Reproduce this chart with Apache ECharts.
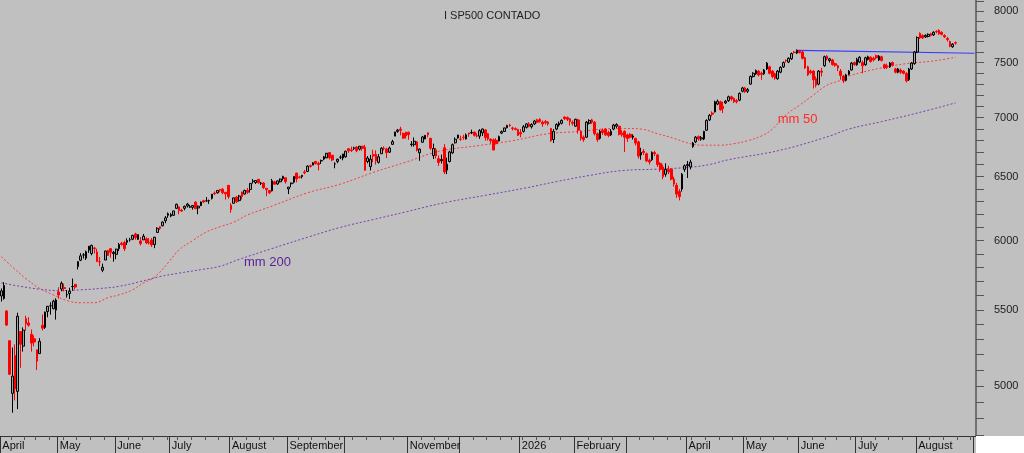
<!DOCTYPE html>
<html>
<head>
<meta charset="utf-8">
<title>I SP500 CONTADO</title>
<script src="https://cdn.jsdelivr.net/npm/echarts@6/dist/echarts.min.js"></script>
<style>
html, body { margin: 0; padding: 0; background: #c0c0c0; }
#container { width: 1024px; height: 453px; }
</style>
</head>
<body>
<div id="container"></div>
<script>
var dom = document.getElementById("container");
var myChart = echarts.init(dom);

// trading calendar (weekdays minus exchange holidays)
var firstDay = '2025-04-01';
var lastDay = '2026-09-01';
var holidays = ['2025-04-18', '2025-05-26', '2025-06-19', '2025-07-04', '2025-09-01',
    '2025-11-27', '2025-12-25', '2026-01-01', '2026-01-19', '2026-02-16',
    '2026-04-03', '2026-05-25', '2026-06-19', '2026-07-03'];

// month labels shown under the axis
var monthLabels = [
    ['2025-04', 'April'], ['2025-05', 'May'], ['2025-06', 'June'], ['2025-07', 'July'],
    ['2025-08', 'August'], ['2025-09', 'September'], ['2025-11', 'November'], ['2026-01', '2026'],
    ['2026-02', 'February'], ['2026-04', 'April'], ['2026-05', 'May'], ['2026-06', 'June'],
    ['2026-07', 'July'], ['2026-08', 'August'], ['2026-09', 'September']
];

var yLabels = [5000, 5500, 6000, 6500, 7000, 7500, 8000];
var yTicks = [4700, 4800, 4900, 5000, 5100, 5200, 5300, 5400, 5500, 5600, 5700, 5800, 5900,
    6000, 6100, 6200, 6300, 6400, 6500, 6600, 6700, 6800, 6900, 7000, 7100, 7200, 7300,
    7400, 7500, 7600, 7700, 7800, 7900, 8000, 8100];

// daily candles: [open, close, low, high]
var candles = [
    // april 2025
    [5597, 5633, 5558, 5650], [5580, 5671, 5571, 5695], [5492, 5397, 5390, 5500], [5292, 5074, 5069, 5292],
    [4954, 5062, 4835, 5247], [5194, 4982, 4910, 5268], [4966, 5457, 4857, 5481], [5353, 5268, 5115, 5353],
    [5256, 5363, 5220, 5381], [5441, 5406, 5358, 5460], [5411, 5396, 5386, 5450], [5335, 5276, 5220, 5367],
    [5305, 5283, 5255, 5328], [5232, 5158, 5101, 5232], [5207, 5288, 5207, 5309], [5395, 5376, 5360, 5469],
    [5381, 5485, 5371, 5489], [5489, 5525, 5450, 5528], [5529, 5529, 5468, 5553], [5508, 5561, 5505, 5571],
    [5499, 5569, 5434, 5581],
    // may
    [5626, 5604, 5578, 5659], [5646, 5687, 5631, 5700], [5656, 5650, 5629, 5684], [5605, 5607, 5586, 5639],
    [5614, 5631, 5576, 5655], [5663, 5664, 5634, 5721], [5679, 5660, 5644, 5683], [5807, 5844, 5786, 5846],
    [5854, 5886, 5847, 5906], [5893, 5893, 5866, 5906], [5869, 5917, 5855, 5925], [5929, 5958, 5908, 5959],
    [5903, 5964, 5890, 5969], [5944, 5941, 5904, 5953], [5915, 5845, 5840, 5939], [5842, 5842, 5810, 5878],
    [5781, 5802, 5767, 5829], [5855, 5922, 5855, 5924], [5926, 5889, 5886, 5930], [5939, 5912, 5872, 5943],
    [5903, 5912, 5843, 5923],
    // june
    [5897, 5936, 5861, 5938], [5939, 5970, 5921, 5982], [5979, 5971, 5962, 5991], [5985, 5939, 5921, 5999],
    [5987, 6000, 5967, 6017], [6005, 6006, 5992, 6021], [6010, 6039, 6003, 6043], [6050, 6022, 6006, 6059],
    [6009, 6045, 6004, 6045], [5997, 5977, 5963, 6026], [6005, 6033, 6005, 6050], [6013, 5982, 5974, 6024],
    [5987, 5981, 5970, 6018], [6004, 5967, 5952, 6019], [5970, 6025, 5943, 6028], [6061, 6093, 6061, 6101],
    [6104, 6092, 6080, 6108], [6112, 6141, 6108, 6146], [6151, 6173, 6132, 6187], [6193, 6205, 6174, 6215],
    // july
    [6187, 6198, 6178, 6210], [6193, 6227, 6188, 6228], [6247, 6279, 6245, 6284], [6259, 6230, 6201, 6262],
    [6233, 6226, 6218, 6243], [6247, 6263, 6232, 6269], [6266, 6280, 6253, 6290], [6255, 6260, 6249, 6275],
    [6255, 6269, 6237, 6272], [6296, 6244, 6243, 6303], [6250, 6264, 6201, 6270], [6269, 6297, 6264, 6301],
    [6307, 6297, 6290, 6315], [6305, 6306, 6302, 6336], [6307, 6309, 6282, 6316], [6326, 6359, 6317, 6360],
    [6368, 6363, 6352, 6381], [6370, 6389, 6364, 6390], [6397, 6390, 6375, 6402], [6399, 6371, 6359, 6409],
    [6374, 6362, 6316, 6377], [6430, 6339, 6323, 6428],
    // august
    [6272, 6238, 6212, 6288], [6287, 6330, 6287, 6330], [6336, 6299, 6289, 6344], [6308, 6345, 6301, 6353],
    [6376, 6340, 6316, 6379], [6360, 6389, 6356, 6395], [6390, 6374, 6361, 6409], [6397, 6446, 6372, 6446],
    [6461, 6466, 6444, 6481], [6453, 6469, 6441, 6473], [6479, 6450, 6444, 6481], [6446, 6449, 6433, 6458],
    [6449, 6411, 6401, 6456], [6406, 6396, 6343, 6407], [6389, 6370, 6360, 6393], [6386, 6467, 6381, 6482],
    [6458, 6439, 6438, 6467], [6441, 6466, 6434, 6469], [6459, 6481, 6453, 6485], [6484, 6502, 6470, 6508],
    [6491, 6460, 6444, 6493],
    // september
    [6401, 6416, 6360, 6417], [6443, 6448, 6415, 6453], [6456, 6502, 6445, 6502], [6530, 6482, 6454, 6532],
    [6498, 6495, 6485, 6508], [6500, 6512, 6486, 6513], [6539, 6532, 6520, 6555], [6543, 6587, 6539, 6593],
    [6590, 6584, 6575, 6600], [6595, 6615, 6595, 6619], [6626, 6607, 6600, 6627], [6610, 6600, 6551, 6624],
    [6630, 6632, 6604, 6641], [6645, 6664, 6636, 6672], [6655, 6694, 6654, 6695], [6700, 6656, 6642, 6702],
    [6677, 6638, 6627, 6677], [6604, 6605, 6569, 6619], [6626, 6644, 6611, 6649], [6661, 6661, 6645, 6677],
    [6654, 6688, 6635, 6688],
    // october
    [6664, 6711, 6657, 6715], [6732, 6715, 6697, 6737], [6722, 6716, 6705, 6750], [6734, 6740, 6722, 6749],
    [6746, 6715, 6703, 6753], [6729, 6753, 6718, 6755], [6754, 6735, 6714, 6755], [6744, 6553, 6551, 6765],
    [6625, 6654, 6610, 6670], [6583, 6644, 6551, 6680], [6682, 6671, 6618, 6724], [6686, 6630, 6600, 6719],
    [6618, 6664, 6608, 6687], [6690, 6736, 6690, 6745], [6736, 6735, 6717, 6752], [6730, 6699, 6654, 6741],
    [6703, 6738, 6697, 6751], [6769, 6792, 6766, 6808], [6839, 6875, 6839, 6876], [6880, 6891, 6868, 6901],
    [6900, 6890, 6846, 6920], [6863, 6822, 6818, 6870], [6874, 6840, 6818, 6875],
    // november
    [6872, 6852, 6808, 6878], [6767, 6771, 6750, 6797], [6766, 6796, 6750, 6828], [6790, 6720, 6709, 6796],
    [6698, 6729, 6631, 6733], [6787, 6832, 6783, 6841], [6815, 6846, 6812, 6849], [6868, 6851, 6829, 6870],
    [6821, 6737, 6723, 6822], [6674, 6734, 6646, 6775], [6722, 6672, 6650, 6739], [6649, 6617, 6589, 6676],
    [6631, 6642, 6608, 6683], [6740, 6539, 6522, 6771], [6554, 6603, 6521, 6657], [6625, 6705, 6617, 6715],
    [6697, 6766, 6689, 6776], [6782, 6813, 6776, 6828], [6823, 6849, 6818, 6850],
    // december
    [6813, 6812, 6799, 6843], [6830, 6829, 6808, 6851], [6815, 6850, 6810, 6862], [6866, 6857, 6834, 6867],
    [6866, 6870, 6857, 6895], [6874, 6846, 6835, 6879], [6841, 6840, 6828, 6864], [6839, 6887, 6816, 6899],
    [6867, 6901, 6840, 6904], [6893, 6827, 6801, 6899], [6860, 6816, 6801, 6863], [6812, 6800, 6776, 6822],
    [6808, 6721, 6720, 6819], [6803, 6775, 6768, 6822], [6797, 6835, 6796, 6844], [6865, 6878, 6857, 6888],
    [6879, 6910, 6875, 6911], [6912, 6932, 6906, 6937], [6935, 6930, 6920, 6945], [6910, 6905, 6888, 6920],
    [6903, 6896, 6890, 6915], [6896, 6845, 6843, 6902],
    // january 2026
    [6870, 6858, 6830, 6900], [6880, 6920, 6870, 6935], [6915, 6945, 6905, 6950], [6945, 6925, 6915, 6960],
    [6920, 6940, 6905, 6950], [6945, 6970, 6935, 6980], [6980, 6960, 6950, 6990], [6985, 6965, 6955, 6995],
    [6960, 6945, 6920, 6975], [6965, 6955, 6940, 6980], [6960, 6945, 6930, 6970], [6905, 6800, 6790, 6910],
    [6810, 6880, 6780, 6900], [6900, 6940, 6890, 6950], [6935, 6950, 6920, 6965], [6950, 6975, 6940, 6985],
    [7005, 6990, 6980, 7010], [7000, 6985, 6970, 7010], [6990, 6965, 6930, 6995], [6960, 6950, 6930, 6975],
    // february
    [6925, 6985, 6920, 6990], [6980, 6890, 6860, 6990], [6880, 6820, 6800, 6890], [6830, 6810, 6790, 6845],
    [6830, 6960, 6825, 6970], [6950, 6975, 6940, 6985], [6980, 6960, 6945, 6990], [6960, 6860, 6845, 6970],
    [6860, 6810, 6790, 6870], [6820, 6880, 6810, 6895], [6890, 6870, 6850, 6905], [6900, 6850, 6840, 6905],
    [6870, 6845, 6830, 6885], [6850, 6880, 6840, 6900], [6900, 6935, 6890, 6945], [6925, 6940, 6910, 6950],
    [6925, 6855, 6845, 6930], [6865, 6850, 6835, 6890], [6880, 6830, 6705, 6890],
    // march
    [6850, 6820, 6790, 6860], [6855, 6830, 6820, 6865], [6830, 6840, 6810, 6855], [6820, 6780, 6760, 6825],
    [6790, 6670, 6650, 6800], [6680, 6700, 6640, 6740], [6710, 6700, 6680, 6730], [6690, 6630, 6620, 6700],
    [6635, 6620, 6600, 6650], [6640, 6700, 6630, 6710], [6700, 6690, 6670, 6715], [6680, 6600, 6580, 6690],
    [6610, 6560, 6540, 6620], [6580, 6500, 6480, 6600], [6520, 6560, 6500, 6610], [6560, 6540, 6520, 6590],
    [6560, 6480, 6470, 6570], [6480, 6440, 6420, 6500], [6430, 6360, 6330, 6450], [6380, 6340, 6310, 6400],
    [6400, 6520, 6380, 6530], [6560, 6590, 6540, 6600],
    // april
    [6590, 6600, 6490, 6630], [6580, 6620, 6560, 6640], [6750, 6780, 6740, 6790], [6790, 6830, 6780, 6840],
    [6835, 6815, 6800, 6845], [6815, 6825, 6800, 6840], [6815, 6880, 6805, 6885], [6890, 6975, 6885, 6985],
    [6980, 7020, 6970, 7030], [7040, 7030, 7010, 7055], [7050, 7140, 7045, 7150], [7120, 7145, 7110, 7160],
    [7140, 7070, 7060, 7150], [7100, 7080, 7040, 7140], [7130, 7145, 7120, 7155], [7150, 7185, 7140, 7195],
    [7185, 7165, 7150, 7195], [7170, 7140, 7130, 7180], [7150, 7140, 7125, 7165], [7155, 7215, 7145, 7225],
    [7235, 7265, 7225, 7275],
    // may
    [7265, 7230, 7220, 7275], [7235, 7250, 7220, 7265], [7300, 7370, 7295, 7380], [7370, 7400, 7360, 7410],
    [7395, 7425, 7385, 7435], [7420, 7385, 7370, 7430], [7400, 7390, 7340, 7415], [7395, 7430, 7385, 7440],
    [7440, 7495, 7430, 7505], [7460, 7400, 7390, 7470], [7420, 7370, 7355, 7430], [7395, 7355, 7340, 7405],
    [7350, 7420, 7340, 7430], [7410, 7455, 7400, 7465], [7460, 7500, 7450, 7510], [7520, 7515, 7500, 7530],
    [7505, 7540, 7495, 7550], [7535, 7585, 7525, 7595], [7600, 7595, 7585, 7610], [7590, 7615, 7580, 7625],
    // june
    [7610, 7595, 7585, 7620], [7600, 7540, 7530, 7610], [7545, 7450, 7440, 7555], [7460, 7385, 7375, 7470],
    [7420, 7405, 7390, 7435], [7420, 7340, 7260, 7430], [7350, 7290, 7270, 7370], [7300, 7420, 7290, 7430],
    [7420, 7410, 7370, 7450], [7470, 7555, 7460, 7565], [7560, 7535, 7520, 7570], [7520, 7535, 7500, 7545],
    [7525, 7480, 7470, 7535], [7490, 7475, 7460, 7500], [7470, 7450, 7420, 7480], [7420, 7380, 7340, 7440],
    [7375, 7330, 7310, 7385], [7335, 7385, 7325, 7395], [7390, 7420, 7380, 7430], [7430, 7495, 7425, 7505],
    [7500, 7480, 7470, 7510],
    // july
    [7480, 7530, 7470, 7545], [7505, 7550, 7495, 7560], [7500, 7470, 7400, 7520], [7480, 7545, 7470, 7555],
    [7530, 7555, 7520, 7565], [7550, 7510, 7500, 7560], [7540, 7525, 7510, 7555], [7565, 7545, 7530, 7575],
    [7525, 7560, 7515, 7570], [7555, 7520, 7510, 7565], [7480, 7450, 7440, 7490], [7470, 7455, 7440, 7490],
    [7460, 7495, 7450, 7505], [7500, 7475, 7465, 7510], [7440, 7410, 7400, 7450], [7410, 7440, 7400, 7450],
    [7430, 7410, 7395, 7445], [7420, 7400, 7390, 7430], [7400, 7330, 7315, 7410], [7340, 7440, 7330, 7450],
    [7440, 7495, 7430, 7505], [7490, 7600, 7480, 7610],
    // august
    [7600, 7740, 7590, 7750], [7780, 7735, 7725, 7790], [7760, 7735, 7725, 7770], [7745, 7760, 7735, 7770],
    [7750, 7770, 7740, 7780], [7775, 7760, 7750, 7785], [7765, 7790, 7755, 7800], [7800, 7795, 7780, 7810],
    [7810, 7775, 7765, 7820], [7790, 7770, 7760, 7800], [7760, 7745, 7735, 7770], [7730, 7720, 7700, 7745],
    [7700, 7655, 7645, 7710], [7650, 7675, 7640, 7685], [7690, 7685, 7670, 7700]
];

// moving averages: [day index, value]
var ma50 = [[0, 5880], [4, 5805], [9, 5720], [14, 5650], [19, 5605], [24, 5565], [29, 5550], [34, 5550],
    [39, 5585], [43, 5605], [48, 5640], [52, 5690], [56, 5730], [61, 5835], [65, 5930], [70, 6000],
    [75, 6065], [80, 6105], [85, 6140], [90, 6195], [99, 6265], [112, 6370], [124, 6440], [136, 6535],
    [148, 6620], [160, 6710], [175, 6760], [187, 6800], [200, 6860], [212, 6880], [220, 6900], [228, 6905],
    [234, 6900], [240, 6860], [246, 6820], [252, 6775], [257, 6762], [263, 6762], [268, 6775], [273, 6800],
    [278, 6840], [282, 6900], [287, 7025], [292, 7110], [297, 7200], [302, 7290], [307, 7335], [310, 7375],
    [322, 7450], [331, 7490], [341, 7515], [349, 7550]];
var ma200 = [[0, 5690], [7, 5665], [14, 5645], [21, 5635], [29, 5640], [36, 5650], [43, 5665], [51, 5700],
    [58, 5735], [65, 5760], [73, 5785], [80, 5810], [87, 5860], [99, 5940], [112, 6025], [124, 6100],
    [136, 6160], [148, 6220], [156, 6262], [164, 6300], [177, 6350], [192, 6410], [203, 6460], [215, 6510],
    [227, 6550], [240, 6562], [252, 6578], [259, 6600], [266, 6640], [285, 6720], [303, 6840], [310, 6900],
    [322, 6965], [335, 7040], [349, 7130]];
var resistance = [[291, 7615], [356, 7588]];
var maNames = ['mm 50', 'mm 200'];
var maNameAt = [[284, 6985], [88, 5840]];

var dates = [];
for (var d = new Date(firstDay + 'T00:00:00Z'); d <= new Date(lastDay + 'T00:00:00Z'); d.setUTCDate(d.getUTCDate() + 1)) {
    var s = d.toISOString().slice(0, 10);
    var wd = d.getUTCDay();
    if (wd !== 0 && wd !== 6 && holidays.indexOf(s) < 0) dates.push(s);
}
var labelOf = {};
monthLabels.forEach(function (m) { labelOf[m[0]] = m[1]; });

function isMonthStart(i) {
    if (!dates[i]) return false;
    return i === 0 || dates[i].slice(0, 7) !== dates[i - 1].slice(0, 7);
}
function dow(i) {
    return new Date(dates[i] + 'T00:00:00Z').getUTCDay();
}
function isWeekStart(i) {
    if (!dates[i] || i === 0) return false;
    return dow(i) <= dow(i - 1);
}

var font = 'Liberation Sans, Arial, sans-serif';

var option = {
    backgroundColor: '#c0c0c0',
    animation: false,
    title: {
        text: 'I SP500 CONTADO',
        left: 439,
        top: 5,
        textStyle: { fontSize: 11, fontWeight: 'normal', color: '#222', fontFamily: font }
    },
    grid: { left: 0, right: 48, top: 0, bottom: 17, outerBoundsMode: 'none' },
    xAxis: [{
        type: 'category',
        data: dates,
        boundaryGap: true,
        position: 'bottom',
        axisLine: { show: true, onZero: false, lineStyle: { color: '#333', width: 1 } },
        axisTick: {
            show: true,
            interval: function (i) { return isWeekStart(i); },
            length: 4,
            lineStyle: { color: '#555' }
        },
        axisLabel: { show: false },
        splitLine: { show: false }
    }, {
        type: 'category',
        data: dates,
        boundaryGap: true,
        position: 'bottom',
        axisLine: { show: false, onZero: false },
        axisTick: {
            show: true,
            interval: function (i) { return isMonthStart(i); },
            length: 17,
            lineStyle: { color: '#333' }
        },
        axisLabel: {
            interval: function (i) { return isMonthStart(i) && !!labelOf[dates[i].slice(0, 7)]; },
            formatter: function (v) { return labelOf[v.slice(0, 7)] || ''; },
            align: 'left',
            margin: 4,
            padding: [0, 0, 0, 1],
            color: '#111',
            fontSize: 11,
            fontFamily: font
        },
        splitLine: { show: false }
    }],
    yAxis: {
        type: 'log',
        logBase: 10,
        position: 'right',
        min: 4696,
        max: 8112,
        splitLine: { show: false },
        axisLine: { show: true, lineStyle: { color: '#707070', width: 2 } },
        axisTick: { show: true, customValues: yTicks, length: 8, lineStyle: { color: '#555' } },
        axisLabel: {
            customValues: yLabels,
            formatter: function (v) { return String(Math.round(v)); },
            margin: 18,
            color: '#222',
            fontSize: 11,
            fontFamily: font
        }
    },
    series: [{
        name: maNames[1],
        type: 'line',
        data: ma200,
        showSymbol: false,
        smooth: 0.4,
        z: 2,
        lineStyle: { color: '#7a3cb0', width: 1, type: [2, 2] },
        markPoint: {
            symbolSize: 0,
            data: [{ coord: maNameAt[1] }],
            label: { show: true, position: 'right', distance: 2, formatter: maNames[1], color: '#5c1f96', fontSize: 13, fontFamily: font }
        }
    }, {
        name: maNames[0],
        type: 'line',
        data: ma50,
        showSymbol: false,
        smooth: 0.4,
        z: 2,
        lineStyle: { color: '#ff3a3a', width: 1, type: [2, 2] },
        markPoint: {
            symbolSize: 0,
            data: [{ coord: maNameAt[0] }],
            label: { show: true, position: 'right', distance: 0, formatter: maNames[0], color: '#ff2a2a', fontSize: 13, fontFamily: font }
        }
    }, {
        name: 'resistance',
        type: 'line',
        data: resistance,
        showSymbol: false,
        z: 2,
        lineStyle: { color: '#3a3aff', width: 1.2 }
    }, {
        name: 'SP500',
        type: 'candlestick',
        data: candles,
        barWidth: 2.2,
        z: 3,
        itemStyle: {
            color: '#a4a4a4',
            color0: '#ff0000',
            borderColor: '#000000',
            borderColor0: '#ff0000',
            borderWidth: 1
        }
    }],
    graphic: [{
        type: 'rect',
        right: 0,
        bottom: 0,
        z: 100,
        shape: { width: 48, height: 17 },
        style: { fill: '#ffffff' }
    }]
};

myChart.setOption(option);
</script>
</body>
</html>
